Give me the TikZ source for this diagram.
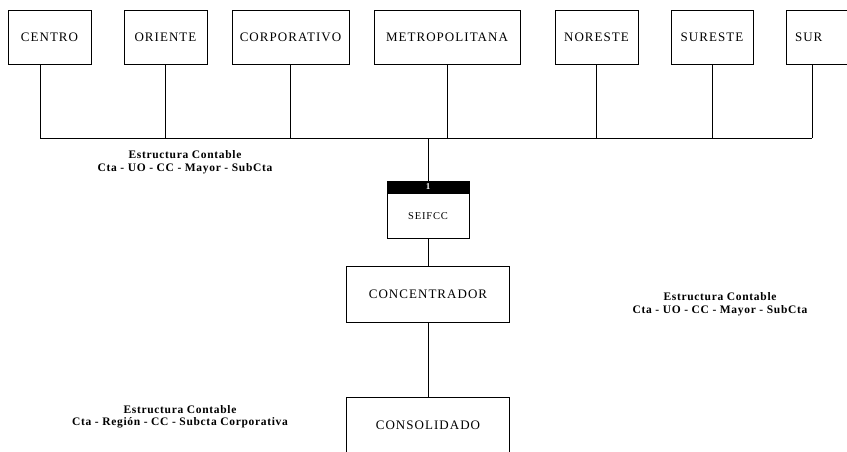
\documentclass[tikz,border=0pt]{standalone}
\usepackage{fontspec}
\setmainfont{Liberation Serif}
\newfontfamily\boxfont[LetterSpace=8]{Liberation Serif}
\newfontfamily\notefont[LetterSpace=6]{Liberation Serif}
\begin{document}
\begin{tikzpicture}[x=1pt,y=-1pt,
  unitbox/.style={draw, line width=0.8pt, minimum height=54pt, inner sep=0pt,
    font=\boxfont\fontsize{13}{15}\selectfont},
  link/.style={line width=0.9pt},
  note/.style={align=center, inner sep=0pt,
    font=\notefont\bfseries\fontsize{11.5}{12.5}\selectfont}]
\useasboundingbox (0,0) rectangle (847,451);

% regional units
\node[unitbox, minimum width=83pt]  (centro)  at (49.5,37)  {CENTRO};
\node[unitbox, minimum width=83pt]  (oriente) at (165.5,37) {ORIENTE};
\node[unitbox, minimum width=117pt] (corp)    at (290.5,37) {CORPORATIVO};
\node[unitbox, minimum width=146pt] (metro)   at (447,37)   {METROPOLITANA};
\node[unitbox, minimum width=83pt]  (noreste) at (596.5,37) {NORESTE};
\node[unitbox, minimum width=82pt]  (sureste) at (712,37)   {SURESTE};
\node[unitbox, text width=45pt, inner xsep=9pt, align=left] (sur) at (817.5,37) {SUR};

% collecting bus
\coordinate (busL) at (40,138);
\coordinate (busR) at (812,138);
\draw[link] (busL) -- (busR);
\draw[link] (centro.south -| busL) -- (busL);
\draw[link] (oriente.south) -- (oriente.south |- busL);
\draw[link] (corp.south) -- (corp.south |- busL);
\draw[link] (metro.south) -- (metro.south |- busL);
\draw[link] (noreste.south) -- (noreste.south |- busL);
\draw[link] (sureste.south) -- (sureste.south |- busL);
\draw[link] (sur.south -| busR) -- (busR);

% SEIFCC with its header bar
\node[draw, fill=black, line width=0.8pt, minimum width=82pt, minimum height=12pt,
  inner sep=0pt, text=white, font=\bfseries\fontsize{9}{9}\selectfont]
  (seifhead) at (428,187) {1};
\node[draw, line width=0.8pt, minimum width=82pt, minimum height=45pt, inner sep=0pt,
  anchor=north, font=\boxfont\fontsize{10.5}{12}\selectfont]
  (seifcc) at (seifhead.south) {SEIFCC};
\draw[link] (seifhead.north) -- (seifhead.north |- busL);

% concentrator and consolidation
\node[unitbox, minimum width=163pt, minimum height=56pt] (conc)   at (428,294) {CONCENTRADOR};
\node[unitbox, minimum width=163pt, minimum height=56pt] (consol) at (428,425) {CONSOLIDADO};
\draw[link] (seifcc.south) -- (conc.north);
\draw[link] (conc.south) -- (consol.north);

% account structure notes
\node[note] (noteA) at (185,162) {Estructura Contable\\Cta - UO - CC - Mayor - SubCta};
\node[note] (noteB) at (720,304) {Estructura Contable\\Cta - UO - CC - Mayor - SubCta};
\node[note] (noteC) at (180,417) {Estructura Contable\\Cta - Región - CC - Subcta Corporativa};
\end{tikzpicture}
\end{document}
